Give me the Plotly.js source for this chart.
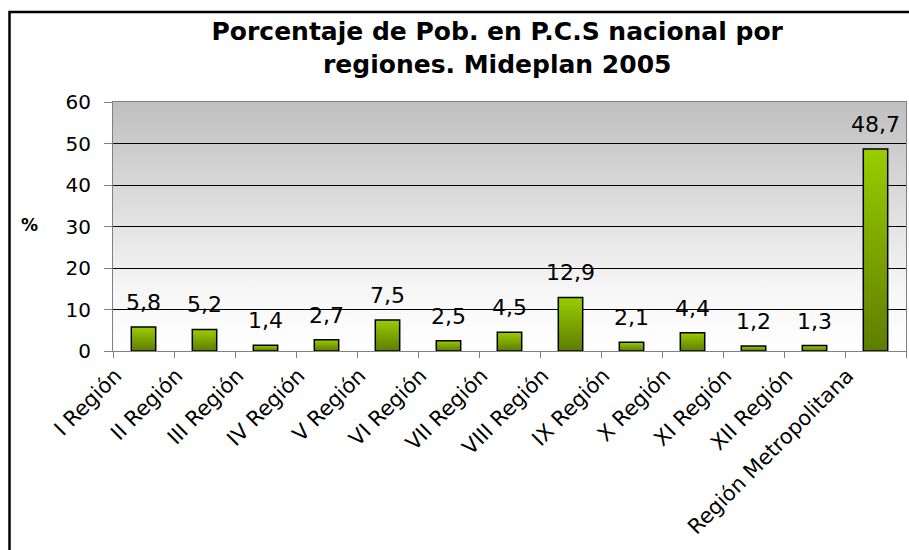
<!DOCTYPE html>
<html><head><meta charset="utf-8">
<script src="https://cdn.plot.ly/plotly-3.0.1.min.js"></script>
<style>html,body{margin:0;padding:0;background:#fff;overflow:hidden}</style>
</head><body><div id="chart" style="width:909px;height:550px"></div>
<script>
const regions = ['I Región','II Región','III Región','IV Región','V Región','VI Región','VII Región','VIII Región','IX Región','X Región','XI Región','XII Región','Región Metropolitana'];
const percentages = [5.8,5.2,1.4,2.7,7.5,2.5,4.5,12.9,2.1,4.4,1.2,1.3,48.7];
const yTicks = [0,10,20,30,40,50,60];
const titleLines = ['Porcentaje de Pob. en P.C.S nacional por','regiones. Mideplan 2005'];
const yLabel = '%';

const bgSvg = '<svg xmlns="http://www.w3.org/2000/svg" width="10" height="100" viewBox="0 0 10 100" preserveAspectRatio="none"><defs><linearGradient id="g" x1="0" y1="0" x2="0" y2="1"><stop offset="0" stop-color="#bfbfbf"/><stop offset="0.75" stop-color="#f6f6f6"/><stop offset="1" stop-color="#ffffff"/></linearGradient></defs><rect width="10" height="100" fill="url(#g)"/></svg>';

const fmt = v => v.toFixed(1).replace('.', ',');

const trace = {
  type: 'bar',
  x: regions,
  y: percentages,
  marker: {color: '#7fa600', line: {color: '#000000', width: 1.5}},
  hoverinfo: 'x+y'
};

const annotations = regions.map((r, i) => ({
  x: r, y: percentages[i], xref: 'x', yref: 'y',
  text: fmt(percentages[i]), showarrow: false,
  yanchor: 'bottom', yshift: 10,
  font: {family: 'DejaVu Sans', size: 22, color: '#000'}
}));
annotations.push({
  xref: 'paper', yref: 'paper', x: (29 - 113) / 793, y: (351 - 225) / 249,
  text: yLabel, showarrow: false, xanchor: 'center', yanchor: 'middle',
  font: {family: 'DejaVu Sans', size: 17, weight: 'bold', color: '#000'}
});

const layout = {
  width: 909, height: 550,
  margin: {l: 113, r: 3, t: 102, b: 199, pad: 0},
  paper_bgcolor: '#ffffff',
  plot_bgcolor: 'rgba(0,0,0,0)',
  bargap: 0.6,
  showlegend: false,
  title: {
    text: titleLines.join('<br>'),
    font: {family: 'DejaVu Sans', size: 25, weight: 'bold', color: '#000'},
    x: 0.547, xanchor: 'center', xref: 'container',
    y: 1 - 40 / 550, yanchor: 'top', yref: 'container'
  },
  xaxis: {
    type: 'category',
    showline: true, linecolor: '#808080', linewidth: 1, mirror: true,
    ticks: 'outside', tickson: 'boundaries', ticklen: 6, tickcolor: '#808080',
    tickangle: -45, ticklabelshift: -28, ticklabelstandoff: 3,
    tickfont: {family: 'DejaVu Sans', size: 21, color: '#000'},
    showgrid: false, zeroline: false
  },
  yaxis: {
    range: [0, 60], tickvals: yTicks, ticktext: yTicks.map(String),
    showline: true, linecolor: '#808080', linewidth: 1, mirror: true,
    ticks: 'outside', ticklen: 8, tickcolor: '#808080', ticklabelstandoff: 9,
    tickfont: {family: 'DejaVu Sans', size: 20, color: '#000'},
    showgrid: true, gridcolor: '#000000', gridwidth: 1,
    zeroline: false
  },
  images: [{
    source: 'data:image/svg+xml;base64,' + btoa(bgSvg),
    xref: 'paper', yref: 'paper', x: 0, y: 1, sizex: 1, sizey: 1,
    sizing: 'stretch', xanchor: 'left', yanchor: 'top', layer: 'below'
  }],
  shapes: [{
    type: 'rect', xref: 'paper', yref: 'paper',
    x0: (9.5 - 113) / 793, x1: (930 - 113) / 793,
    y0: (351 - 580) / 249, y1: (351 - 12) / 249,
    line: {color: '#000000', width: 2.5}, fillcolor: 'rgba(0,0,0,0)', layer: 'above'
  }],
  annotations: annotations
};

Plotly.newPlot('chart', [trace], layout, {displayModeBar: false, staticPlot: true}).then(gd => {
  const ns = 'http://www.w3.org/2000/svg';
  const svg = gd.querySelector('svg.main-svg');
  let defs = svg.querySelector('defs');
  if (!defs) { defs = document.createElementNS(ns, 'defs'); svg.insertBefore(defs, svg.firstChild); }
  const lg = document.createElementNS(ns, 'linearGradient');
  lg.setAttribute('id', 'barGrad');
  lg.setAttribute('x1', '0'); lg.setAttribute('y1', '0');
  lg.setAttribute('x2', '0'); lg.setAttribute('y2', '1');
  [['0', '#9acd00'], ['1', '#5e7d00']].forEach(([o, c]) => {
    const s = document.createElementNS(ns, 'stop');
    s.setAttribute('offset', o); s.setAttribute('stop-color', c);
    lg.appendChild(s);
  });
  defs.appendChild(lg);
  gd.querySelectorAll('.barlayer .point path').forEach(p => {
    p.style.setProperty('fill', 'url(#barGrad)');
  });
});
</script></body></html>
